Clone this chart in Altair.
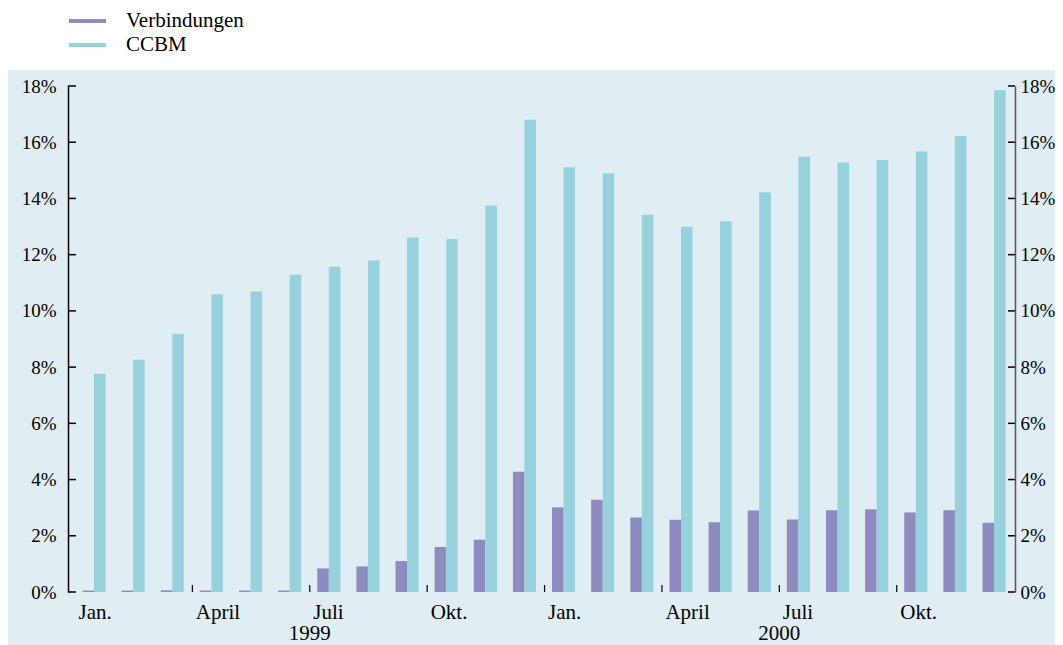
import altair as alt
import pandas as pd

# ---- data -------------------------------------------------------------
months = [f"{y}-{m:02d}" for y in (1999, 2000) for m in range(1, 13)]
verbindungen = [0.05, 0.05, 0.06, 0.05, 0.05, 0.05, 0.84, 0.91, 1.10, 1.60, 1.86, 4.28,
                3.01, 3.28, 2.65, 2.57, 2.48, 2.90, 2.58, 2.91, 2.94, 2.83, 2.91, 2.46]
ccbm = [7.76, 8.26, 9.19, 10.59, 10.69, 11.29, 11.57, 11.79, 12.61, 12.56, 13.75, 16.80,
        15.11, 14.90, 13.42, 12.99, 13.19, 14.22, 15.48, 15.28, 15.37, 15.67, 16.22, 17.85]
series_names = ["Verbindungen", "CCBM"]
series_colors = ["#8e8bbe", "#96d1dc"]
label_months = ["1999-01", "1999-04", "1999-07", "1999-10",
                "2000-01", "2000-04", "2000-07", "2000-10"]
label_names = ["Jan.", "April", "Juli", "Okt.", "Jan.", "April", "Juli", "Okt."]
tick_months = label_months[1:]
years = ["1999", "2000"]
y_ticks = [0, 2, 4, 6, 8, 10, 12, 14, 16, 18]

df = pd.DataFrame({
    "month": months * 2,
    "series": [series_names[0]] * 24 + [series_names[1]] * 24,
    "value": verbindungen + ccbm,
})

W, H = 947, 506
FONT = "Liberation Serif"
y_dom = [0, 18]

x_scale = alt.Scale(domain=months, paddingInner=0.41, paddingOuter=0.305, align=0.606)

panel = alt.Chart(pd.DataFrame({"a": [0]})).mark_rect(color="#e0eef3").encode(
    x=alt.value(-60), x2=alt.value(W + 40), y=alt.value(-16), y2=alt.value(H + 53)
)

bars = alt.Chart(df).mark_bar().encode(
    x=alt.X("month:O", scale=x_scale,
            axis=alt.Axis(labels=False, tickSize=0, domainColor="#555", domainWidth=2,
                          title=None, zindex=1)),
    xOffset=alt.XOffset("series:N", sort=series_names),
    y=alt.Y("value:Q", scale=alt.Scale(domain=y_dom, nice=False),
            axis=alt.Axis(orient="left", values=y_ticks, labelExpr="datum.value + '%'",
                          tickSize=0, labelPadding=12, domainColor="black",
                          domainWidth=1.5, grid=False, title=None, labelFontSize=19,
                          labelFont=FONT, labelColor="black", zindex=1)),
    color=alt.Color("series:N", sort=series_names,
                    scale=alt.Scale(domain=series_names, range=series_colors),
                    legend=alt.Legend(orient="none", legendX=1, legendY=-77, title=None,
                                      symbolType="M-1,-0.11L1,-0.11L1,0.11L-1,0.11Z",
                                      symbolSize=1369, symbolStrokeWidth=0,
                                      clipHeight=24, rowPadding=0, labelOffset=20,
                                      labelFontSize=21, labelFont=FONT, labelColor="black",
                                      padding=0, direction="vertical", symbolOpacity=1)),
)

xticks = alt.Chart(pd.DataFrame({"month": tick_months})).mark_rule(
    color="black", strokeWidth=1.2, xOffset=-7.5
).encode(
    x=alt.X("month:O", bandPosition=0, scale=x_scale, axis=None),
    y=alt.value(H - 7), y2=alt.value(H),
)

xlabels = alt.Chart(pd.DataFrame({"month": label_months, "name": label_names})).mark_text(
    dx=-4, align="left", baseline="top", fontSize=21, font=FONT, color="black"
).encode(
    x=alt.X("month:O", bandPosition=0, scale=x_scale, axis=None),
    y=alt.value(H + 10),
    text="name:N",
)

yticks_left = alt.Chart(pd.DataFrame({"v": y_ticks})).mark_rule(
    color="black", strokeWidth=1.5
).encode(
    x=alt.value(0), x2=alt.value(8),
    y=alt.Y("v:Q", scale=alt.Scale(domain=y_dom, nice=False), axis=None),
)

yticks_right = alt.Chart(pd.DataFrame({"v": y_ticks})).mark_rule(
    color="black", strokeWidth=1.5
).encode(
    x=alt.value(W - 7), x2=alt.value(W),
    y=alt.Y("v:Q", scale=alt.Scale(domain=y_dom, nice=False),
            axis=alt.Axis(orient="right", values=y_ticks, labelExpr="datum.value + '%'",
                          tickSize=0, labelPadding=5, domainColor="#555",
                          domainWidth=1.5, grid=False, title=None, labelFontSize=19,
                          labelFont=FONT, labelColor="black", zindex=1)),
)

year_text = alt.Chart(pd.DataFrame({"year": years})).transform_calculate(
    m="datum.year + '-07'"
).mark_text(dx=-7.5, align="center", baseline="alphabetic", fontSize=21,
            font=FONT, color="black").encode(
    x=alt.X("m:O", bandPosition=0, scale=x_scale, axis=None),
    y=alt.value(H + 48),
    text="year:N",
)

chart = alt.layer(panel, bars, xticks, xlabels, yticks_left, yticks_right,
                  year_text).resolve_scale(
    y="independent"
).properties(
    width=W, height=H,
    padding={"left": 0, "top": 1, "right": 0, "bottom": 0},
).configure(font=FONT).configure_view(stroke=None).configure_axis(
    labelFont=FONT, labelColor="black"
)

chart.save("out.html", embed_options={"renderer": "svg", "actions": False})
